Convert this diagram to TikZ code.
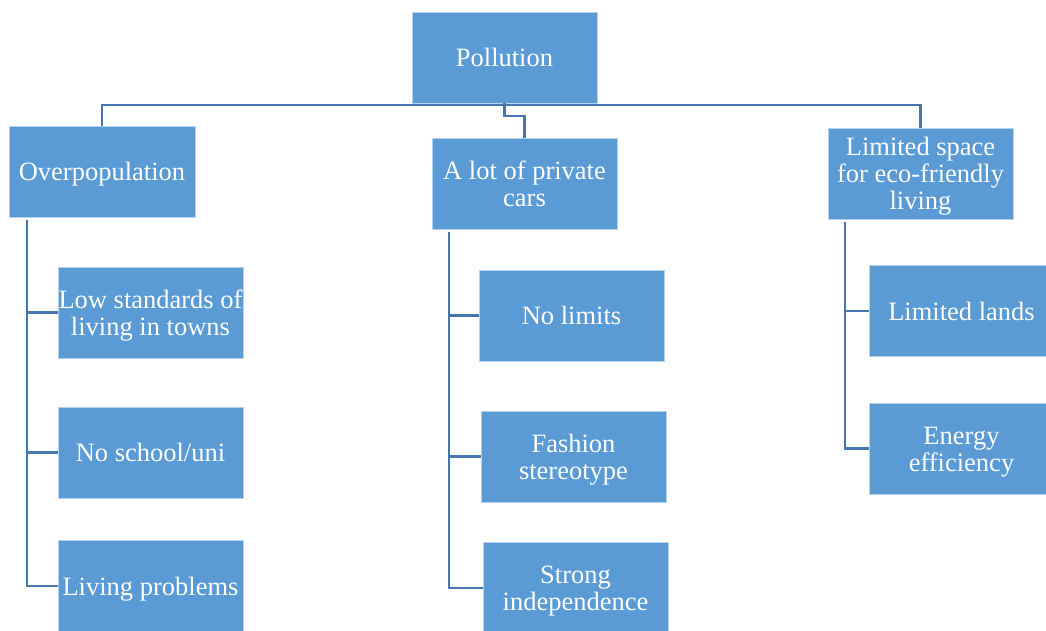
\documentclass[tikz,border=0pt]{standalone}
\usepackage{fontspec}
\setmainfont{Liberation Serif}
\definecolor{boxblue}{HTML}{5B9BD5}
\definecolor{linkblue}{HTML}{4676AE}
\newcommand{\bx}[1]{\rule[-3.5pt]{0pt}{25.5pt}\smash{#1}}
\begin{document}
\begin{tikzpicture}[x=1pt,y=-1pt,
  box/.style={rectangle, fill=boxblue, draw=white!55!boxblue, line width=0.8pt,
    minimum width=185pt, minimum height=91pt, inner sep=0pt, align=center,
    text=white, font=\fontsize{26.5}{27}\selectfont},
  link/.style={draw=linkblue, line width=2.2pt}]
\clip (0,0) rectangle (1046,630);
\fill[white] (0,0) rectangle (1046,630);
% nodes
\node[box] (poll) at (504.5,57.5) {\bx{Pollution}};
\node[box, minimum width=186pt] (ov) at (102,171.5) {\bx{Overpopulation}};
\node[box] (cars) at (524.5,183.5) {\bx{A lot of private}\\\bx{cars}};
\node[box] (lim) at (920.5,173.5) {\bx{Limited space}\\\bx{for eco-friendly}\\\bx{living}};
\node[box] (low) at (150.5,312.5) {\bx{Low standards of}\\\bx{living in towns}};
\node[box] (nos) at (150.5,452.5) {\bx{No school/uni}};
\node[box] (liv) at (150.5,586) {\bx{Living problems}};
\node[box] (nol) at (571.5,315.5) {\bx{No limits}};
\node[box] (fas) at (573.5,456.5) {\bx{Fashion}\\\bx{stereotype}};
\node[box] (str) at (575.5,588) {\bx{Strong}\\\bx{independence}};
\node[box] (lla) at (961.5,311) {\bx{Limited lands}};
\node[box] (ene) at (961.5,448.5) {\bx{Energy}\\\bx{efficiency}};
% top connectors
\coordinate (j) at (504.5,105);
\draw[link] (ov.north) -- (ov.north |- j) -- (lim.north |- j) -- (lim.north);
\draw[link] (poll.south) -- (j) -- ++(0,11) -| (cars.north);
% left branch
\coordinate (lt) at ([xshift=18pt,yshift=-3pt]ov.south west);
\draw[link] (lt) |- (liv.west);
\draw[link] (lt |- low.west) -- (low.west);
\draw[link] (lt |- nos.west) -- (nos.west);
% middle branch
\coordinate (mt) at ([xshift=17pt,yshift=-3pt]cars.south west);
\draw[link] (mt) |- (str.west);
\draw[link] (mt |- nol.west) -- (nol.west);
\draw[link] (mt |- fas.west) -- (fas.west);
% right branch
\coordinate (rt) at ([xshift=17pt,yshift=-3pt]lim.south west);
\draw[link] (rt) |- (ene.west);
\draw[link] (rt |- lla.west) -- (lla.west);
\end{tikzpicture}
\end{document}
